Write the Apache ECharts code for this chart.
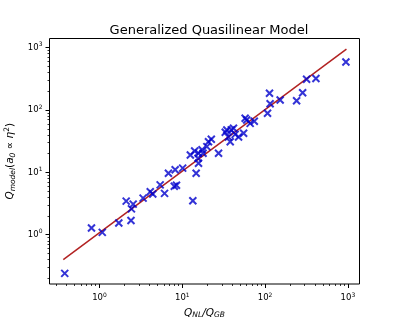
<!DOCTYPE html>
<html lang="en">
<head>
  <meta charset="UTF-8">
  <title>Generalized Quasilinear Model</title>
  <style>
    html, body { margin: 0; padding: 0; background: #fff; }
    #chart { width: 400px; height: 320px; }
  </style>
</head>
<body>
  <div id="chart"></div>
  <script src="https://cdn.jsdelivr.net/npm/echarts@6/dist/echarts.min.js"></script>
  <script>
    // values (Q_NL/Q_GB vs Q_model)
    var qNL = [0.38, 0.80, 1.08, 1.71, 2.4, 2.1, 2.55, 2.43, 3.36, 4.1, 4.4, 5.4, 6.1, 6.8, 8.2, 10.1,
      8.0, 8.5, 13.4, 12.5, 14.1, 14.7, 15.7, 15.5, 17.3, 20.7, 22.4, 19.8, 15.7, 17.8, 27.4, 34.5,
      36, 37.9, 41.5, 43.5, 47.8, 55, 57.4, 60, 66, 74, 33, 39, 107, 113, 115, 152, 240, 284, 317, 411, 946]
    var qModel = [0.24, 1.28, 1.09, 1.54, 1.69, 3.46, 3.1, 2.6, 3.87, 4.9, 4.5, 6.3, 4.6, 9.7, 11, 11.7,
      6.0, 6.2, 3.5, 19, 22, 9.7, 14, 16.9, 23, 31, 34, 25.9, 20.3, 20.3, 20.3, 47.9,
      37, 31, 51, 40.7, 37, 42.4, 73.6, 69, 61, 66, 44, 48, 88.6, 186, 126, 145, 141, 189, 311, 321, 590]
    var lineX = [0.365, 960]
    var lineY = [0.40, 946]
    var majorExp = [0, 1, 2, 3]

    var minorTicks = []
    for (var n = -1; n <= 3; n++) {
      for (var k = 2; k <= 9; k++) minorTicks.push(Math.log10(k * Math.pow(10, n)))
    }

    var points = qNL.map(function (x, i) { return [Math.log10(x), Math.log10(qModel[i])] })
    var fitLine = lineX.map(function (x, i) { return [Math.log10(x), Math.log10(lineY[i])] })

    var font = 'DejaVu Sans'
    var tickRich = {
      b: { fontFamily: font, fontSize: 8.5, color: '#000' },
      s: { fontFamily: font, fontSize: 6, color: '#000', padding: [0, 0, 6, 0] }
    }
    function powLabel(v) { return '{b|10}{s|' + Math.round(v) + '}' }

    var xr = [-0.604, 3.14]
    var yr = [-0.79, 3.147]
    var noLine = { show: false, onZero: false }

    var chart = echarts.init(document.getElementById('chart'), null, { renderer: 'canvas' })
    chart.setOption({
      animation: false,
      title: {
        text: 'Generalized Quasilinear Model',
        left: 204, top: 19, textAlign: 'center',
        textStyle: { fontFamily: font, fontSize: 13, fontWeight: 'normal', color: '#000' }
      },
      grid: {
        left: 49.5, right: 40.5, top: 38.5, bottom: 36,
        containLabel: false, outerBoundsMode: 'none',
        show: true, borderColor: '#000', borderWidth: 1
      },
      xAxis: [{
        type: 'value', min: xr[0], max: xr[1],
        axisLine: noLine,
        splitLine: { show: false },
        axisTick: { show: true, customValues: majorExp, length: 4, lineStyle: { color: '#000', width: 1 } },
        axisLabel: { customValues: majorExp, formatter: powLabel, rich: tickRich, margin: 8 },
        name: '{i|Q}{sub|NL}{i|/Q}{sub|GB}',
        nameLocation: 'middle', nameGap: 22,
        nameTextStyle: {
          rich: {
            i: { fontFamily: font, fontSize: 10.5, fontStyle: 'italic', color: '#000' },
            sub: { fontFamily: font, fontSize: 7.5, fontStyle: 'italic', color: '#000', padding: [5, 0, 0, 0] }
          }
        }
      }, {
        type: 'value', min: xr[0], max: xr[1], position: 'bottom',
        axisLine: noLine,
        splitLine: { show: false },
        axisLabel: { show: false },
        axisTick: { show: true, customValues: minorTicks, length: 2, lineStyle: { color: '#000', width: 0.8 } }
      }],
      yAxis: [{
        type: 'value', min: yr[0], max: yr[1],
        axisLine: noLine,
        splitLine: { show: false },
        axisTick: { show: true, customValues: majorExp, length: 4, lineStyle: { color: '#000', width: 1 } },
        axisLabel: { customValues: majorExp, formatter: powLabel, rich: tickRich, margin: 7 },
        name: '{i|Q}{sub|model}{n|(}{i|a}{sub|0}{n| ∝ }{i|η}{sup|2}{n|)}',
        nameLocation: 'middle', nameGap: 29, nameRotate: 90,
        nameTextStyle: {
          rich: {
            i: { fontFamily: font, fontSize: 10.5, fontStyle: 'italic', color: '#000' },
            n: { fontFamily: font, fontSize: 10.5, color: '#000' },
            sub: { fontFamily: font, fontSize: 7.5, fontStyle: 'italic', color: '#000', padding: [5, 0, 0, 0] },
            sup: { fontFamily: font, fontSize: 7.5, color: '#000', padding: [0, 0, 6, 0] }
          }
        }
      }, {
        type: 'value', min: yr[0], max: yr[1], position: 'left',
        axisLine: noLine,
        splitLine: { show: false },
        axisLabel: { show: false },
        axisTick: { show: true, customValues: minorTicks, length: 2, lineStyle: { color: '#000', width: 0.8 } }
      }],
      series: [{
        type: 'line',
        data: fitLine,
        symbol: 'none',
        lineStyle: { color: '#b22222', width: 1.5 },
        z: 2
      }, {
        type: 'scatter',
        data: points,
        symbol: 'path://M0,0L10,10M10,0L0,10',
        symbolSize: 7,
        itemStyle: { color: 'rgba(0,0,0,0)', borderColor: '#0000cc', borderWidth: 2 },
        z: 3
      }]
    })
  </script>
</body>
</html>
